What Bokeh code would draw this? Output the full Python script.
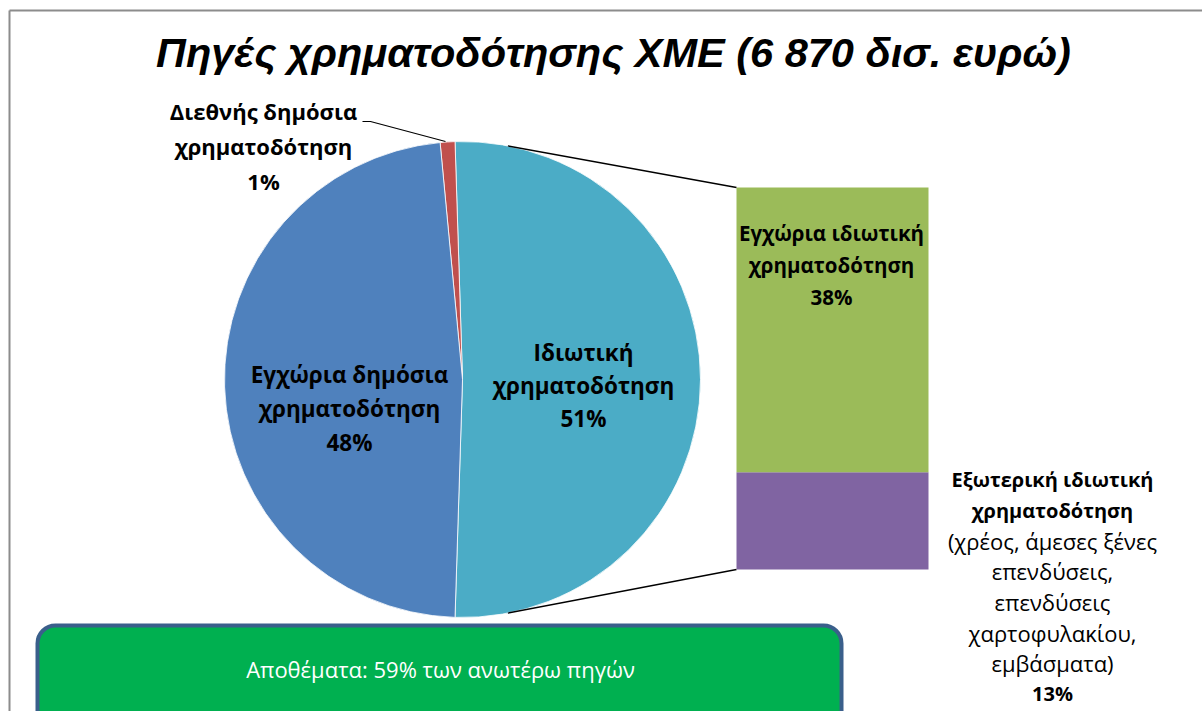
import math
from bokeh.plotting import figure
from bokeh.models import Range1d, ColumnDataSource
from bokeh.core.properties import value
from bokeh.embed import file_html
from bokeh.resources import INLINE

# ---------------- data ----------------
title_text = "Πηγές χρηματοδότησης ΧΜΕ (6 870 δισ. ευρώ)"
pie_names = ["Ιδιωτική χρηματοδότηση", "Διεθνής δημόσια χρηματοδότηση", "Εγχώρια δημόσια χρηματοδότηση"]
pie_values = [51, 1, 48]
pie_colors = ["#4BACC6", "#C0504D", "#4F81BD"]
bar_names = ["Εξωτερική ιδιωτική χρηματοδότηση", "Εγχώρια ιδιωτική χρηματοδότηση"]
bar_values = [13, 38]
bar_colors = ["#8064A2", "#9BBB59"]
reserves_text = "Αποθέματα: 59% των ανωτέρω πηγών"

W, H = 1202, 711
FONT = "Open Sans"


def Y(px):
    return H - px


p = figure(width=W, height=H, output_backend="svg", toolbar_location=None,
           x_range=Range1d(0, W), y_range=Range1d(0, H), min_border=0)
p.axis.visible = False
p.grid.visible = False
p.outline_line_color = None
p.background_fill_color = "white"
p.border_fill_color = "white"

# chart border (partial frame)
p.segment(x0=[9, 9], y0=[Y(10), Y(10)], x1=[W, 9], y1=[Y(10), 0], line_color="#8C8C8C", line_width=2)

# ---------------- pie ----------------
cx, cy, r = 462, Y(379), 238
total = sum(pie_values)
start = -math.pi * pie_values[0] / total  # first slice centred on 3 o'clock
starts, ends = [], []
a = start
for v in pie_values:
    starts.append(a)
    a += 2 * math.pi * v / total
    ends.append(a)
src = ColumnDataSource(dict(start=starts, end=ends, color=pie_colors))
p.wedge(x=cx, y=cy, radius=r, start_angle="start", end_angle="end", fill_color="color",
        line_color="white", line_width=0.8, source=src)

# ---------------- bar of pie ----------------
bx0, bx1 = 736, 928
b_top, b_bot = Y(187), Y(569)
scale = (b_top - b_bot) / sum(bar_values)
bottoms, tops = [], []
acc = b_bot
for v in bar_values:
    bottoms.append(acc)
    acc += v * scale
    tops.append(acc)
bsrc = ColumnDataSource(dict(bottom=bottoms, top=tops, color=bar_colors))
p.quad(left=bx0, right=bx1, bottom="bottom", top="top", fill_color="color", line_color=None, source=bsrc)

# connector lines
ang = math.radians(79)
p.segment(x0=[cx + r * math.cos(ang), cx + r * math.cos(ang)],
          y0=[cy + r * math.sin(ang), cy - r * math.sin(ang)],
          x1=[bx0, bx0], y1=[tops[-1], bottoms[0]], line_color="black", line_width=1.5)

# leader line for small slice
p.line(x=[362, 370, 445], y=[Y(121), Y(121), Y(141)], line_color="black", line_width=1.2)


def txt(x, ypx, s, size, bold=True, color="black", font=FONT, style=None):
    fs = "bold" if bold else "normal"
    if style:
        fs = style
    p.text(x=[x], y=[Y(ypx)], text=[s], text_font=value(font), text_font_size=f"{size}px",
           text_font_style=fs, text_align="center", text_baseline="middle", text_color=color)


# title
txt(613, 52, title_text, 41.5, style="bold italic", font="Liberation Sans")

n = pie_names[1].split(" ")
for i, s in enumerate([n[0] + " " + n[1], n[2], f"{pie_values[1]}%"]):
    txt(263, 110 + 35 * i, s, 22)
n = pie_names[2].split(" ")
for i, s in enumerate([n[0] + " " + n[1], n[2], f"{pie_values[2]}%"]):
    txt(349, 374 + 34 * i, s, 22.5)
n = pie_names[0].split(" ")
for i, s in enumerate([n[0], n[1], f"{pie_values[0]}%"]):
    txt(583, 352 + 33 * i, s, 22.5)

# bar labels
n = bar_names[1].split(" ")
for i, s in enumerate([n[0] + " " + n[1], n[2], f"{bar_values[1]}%"]):
    txt(831, 232 + 32 * i, s, 20.5)
n = bar_names[0].split(" ")
rl = [(n[0] + " " + n[1], True), (n[2], True), ("(χρέος, άμεσες ξένες", False), ("επενδύσεις,", False),
      ("επενδύσεις", False), ("χαρτοφυλακίου,", False), ("εμβάσματα)", False), (f"{bar_values[0]}%", True)]
for i, (s, b) in enumerate(rl):
    txt(1052, 479 + 30.6 * i, s, 20 if b else 22, bold=b)

# reserves box
p.quad(left=37, right=841, top=Y(625), bottom=-40, fill_color="#00B050", line_color="#3A5F8B",
       line_width=4, border_radius=18)
txt(440, 668, reserves_text, 22, bold=False, color="white")

open("out.html", "w").write(file_html(p, INLINE))
